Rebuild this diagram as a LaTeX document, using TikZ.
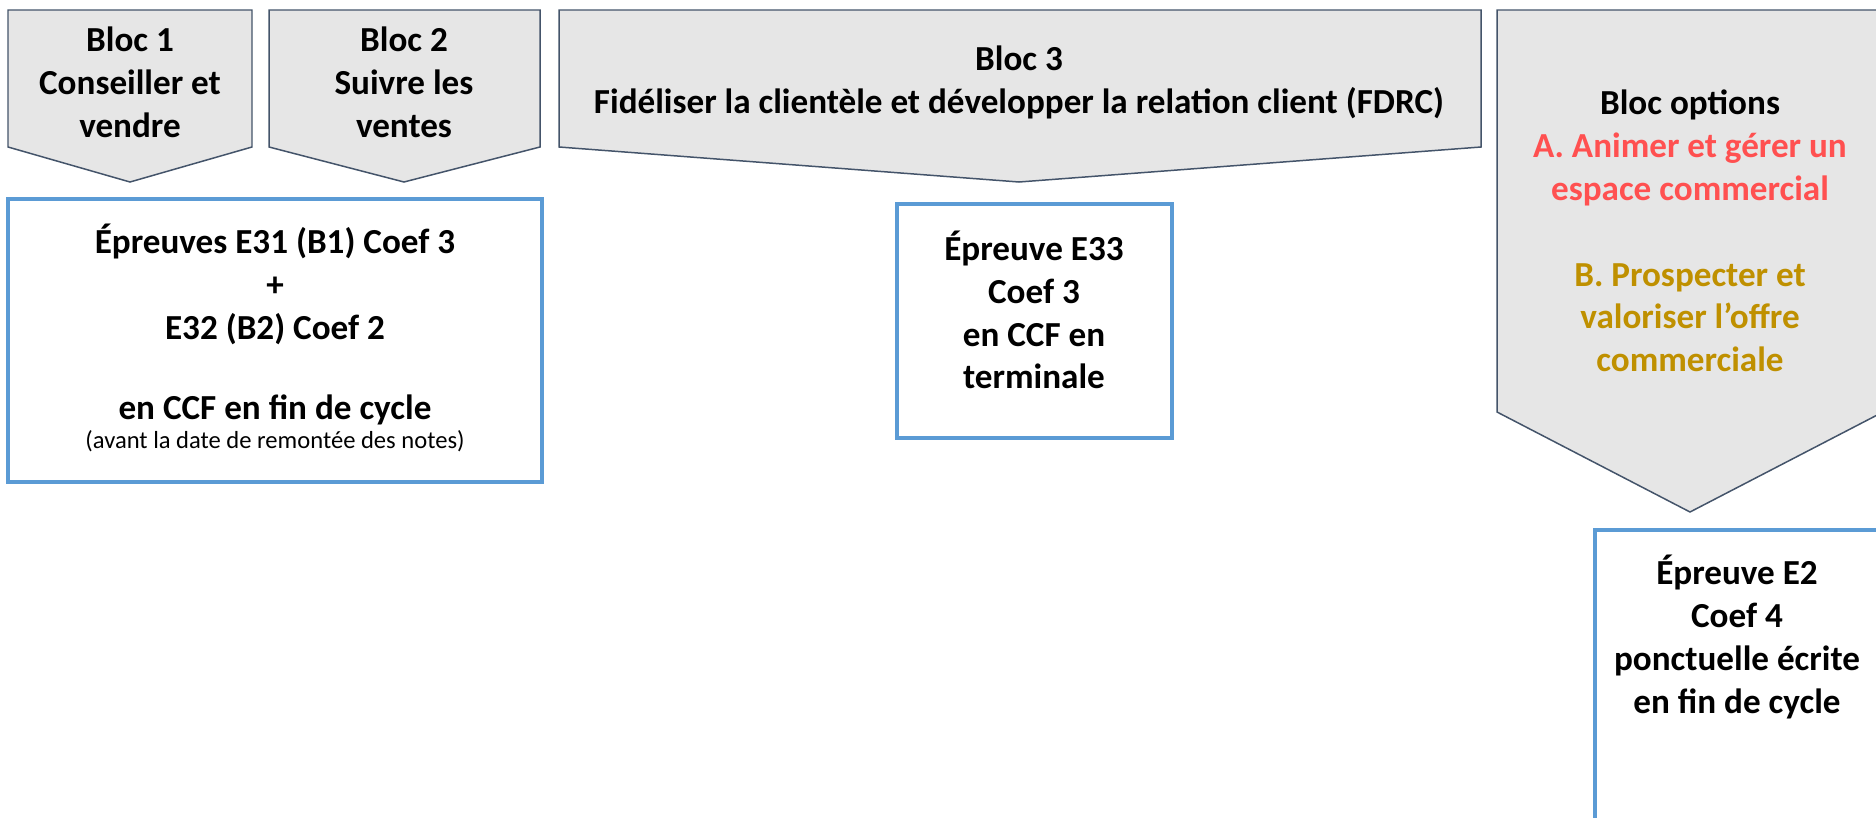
\documentclass[tikz,border=0pt]{standalone}
\usepackage{fontspec}
\setmainfont{Carlito}
\definecolor{blocgris}{HTML}{E6E6E6}
\definecolor{blocbord}{HTML}{44546A}
\definecolor{epbleu}{HTML}{5B9BD5}
\definecolor{optA}{HTML}{FF5050}
\definecolor{optB}{HTML}{BF9000}

\begin{document}
\begin{tikzpicture}[x=0.02cm, y=-0.02cm, font=\fontsize{20}{24.4}\selectfont\bfseries,
  bloc/.style={draw=blocbord, fill=blocgris, line width=0.85pt, line join=miter},
  ep/.style={draw=epbleu, line width=2.3pt, inner sep=0pt},
  lbl/.style={align=center, inner sep=0pt}]
  \useasboundingbox (0,0) rectangle (1876,818);
  \clip (0,0) rectangle (1876,818);
  % les blocs
  \draw[bloc] (8,10) -- (252,10) -- (252,147) -- (130,182) -- (8,147) -- cycle;
  \draw[bloc] (269,10) -- (540,10) -- (540,147) -- (404,182) -- (269,147) -- cycle;
  \draw[bloc] (559,10) -- (1481,10) -- (1481,147) -- (1019,182) -- (559,147) -- cycle;
  \draw[bloc] (1497,10) -- (1883,10) -- (1883,412) -- (1690,512) -- (1497,412) -- cycle;
  \node[lbl] (b1) at (130,82) {Bloc 1\\Conseiller et\\vendre};
  \node[lbl] (b2) at (404,82) {Bloc 2\\Suivre les\\ventes};
  \node[lbl] (b3) at (1019,82) {Bloc 3\\Fidéliser la clientèle et développer la relation client (FDRC)};
  \node[lbl] (bopt) at (1690,231) {Bloc options\\
    \textcolor{optA}{A. Animer et gérer un}\\\textcolor{optA}{espace commercial}\\[24.4pt]
    \textcolor{optB}{B. Prospecter et}\\\textcolor{optB}{valoriser l’offre}\\\textcolor{optB}{commerciale}};
  % les epreuves
  \node[ep, minimum width=10.68cm, minimum height=5.66cm] (e3132) at (275,340.5) {};
  \node[lbl] (t3132) at (275,338) {Épreuves E31 (B1) Coef 3\\+\\E32 (B2) Coef 2\\[21pt]
    en CCF en fin de cycle\\[-8pt]{\mdseries\fontsize{14}{17}\selectfont (avant la date de remontée des notes)}};
  \node[ep, minimum width=5.5cm, minimum height=4.68cm] (e33) at (1034.5,321) {};
  \node[lbl] (t33) at (1034,310) {Épreuve E33\\Coef 3\\en CCF en\\terminale};
  \node[ep, minimum width=5.9cm, minimum height=6.2cm] (e2) at (1742.5,685) {};
  \node[lbl] (t2) at (1737,637) {Épreuve E2\\Coef 4\\ponctuelle écrite\\en fin de cycle};
\end{tikzpicture}
\end{document}
